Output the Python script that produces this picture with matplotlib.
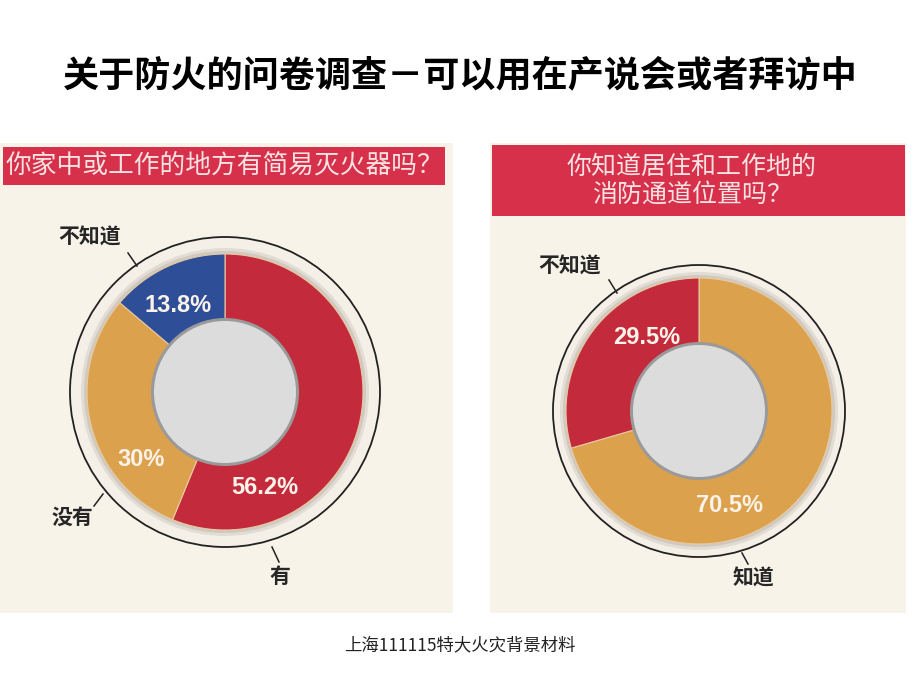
import matplotlib
matplotlib.use("Agg")
import matplotlib.pyplot as plt
from matplotlib.patches import Rectangle, Circle

plt.rcParams['font.family'] = ['Noto Sans CJK SC', 'DejaVu Sans']

# data
title = "关于防火的问卷调查－可以用在产说会或者拜访中"
footer = "上海111115特大火灾背景材料"

q1_title = "你家中或工作的地方有简易灭火器吗？"
q1_labels = ["有", "没有", "不知道"]
q1_values = [56.2, 30, 13.8]
q1_pct = ["56.2%", "30%", "13.8%"]

q2_title = "你知道居住和工作地的\n消防通道位置吗？"
q2_labels = ["知道", "不知道"]
q2_values = [70.5, 29.5]
q2_pct = ["70.5%", "29.5%"]

RED = "#c32b3d"
ORANGE = "#dba14d"
BLUE = "#2e4f97"
HEADER = "#d7304a"
BEIGE = "#f8f3e9"
H = 690


def Y(y):
    # pixel row -> data y
    return H - y


def donut(ax, cx, cy, r_out, r_in, r_circ, values, colors):
    c = (cx, Y(cy))
    ax.add_patch(Circle(c, r_circ, facecolor="#f4f0e8", edgecolor="#222222", lw=1.3, zorder=1))
    ax.add_patch(Circle(c, r_out + 6, facecolor="#e2ddd4", edgecolor="none", zorder=1.5))
    ax.add_patch(Circle(c, r_out + 3, facecolor="#cfc9bf", edgecolor="none", zorder=1.6))
    wedges, _ = ax.pie(values, colors=colors, startangle=90, counterclock=False,
                       radius=r_out, center=c,
                       wedgeprops=dict(width=r_out - r_in, edgecolor="#e9c9a0", linewidth=0.8),
                       frame=True)
    for w in wedges:
        w.set_zorder(2)
    ax.add_patch(Circle(c, r_in + 3, facecolor="#9a9a9a", edgecolor="none", zorder=3))
    ax.add_patch(Circle(c, r_in, facecolor="#dcdcdc", edgecolor="none", zorder=3.1))


def leader(ax, x0, y0, x1, y1):
    ax.plot([x0, x1], [Y(y0), Y(y1)], color="#222222", lw=1.1, zorder=4)


def main():
    fig = plt.figure(figsize=(9.2, 6.9), dpi=100)
    ax = fig.add_axes([0, 0, 1, 1])

    # panels
    ax.add_patch(Rectangle((0, Y(613)), 453, 613 - 143, facecolor=BEIGE, edgecolor="none", zorder=0))
    ax.add_patch(Rectangle((490, Y(613)), 416, 613 - 143, facecolor=BEIGE, edgecolor="none", zorder=0))
    ax.add_patch(Rectangle((3, Y(185)), 442, 38, facecolor=HEADER, edgecolor="none", zorder=1))
    ax.add_patch(Rectangle((492, Y(216)), 413, 71, facecolor=HEADER, edgecolor="none", zorder=1))

    ax.text(224, Y(166), q1_title, ha="center", va="center", fontsize=18.5,
            color="#f7e3e3", zorder=2)
    ax.text(692, Y(181), q2_title, ha="center", va="center", fontsize=18,
            color="#f7e3e3", linespacing=1.1, zorder=2)

    # donuts
    donut(ax, 225, 392, 138, 71, 155, q1_values, [RED, ORANGE, BLUE])
    donut(ax, 699, 411, 133, 66, 146, q2_values, [ORANGE, RED])

    pct_kw = dict(ha="center", va="center", fontsize=17, fontweight="bold",
                  color="#fbf3ea", family=["Liberation Sans", "DejaVu Sans"], zorder=5)
    ax.text(265, Y(487), q1_pct[0], **pct_kw)
    ax.text(141, Y(460), q1_pct[1], **pct_kw)
    ax.text(178, Y(305), q1_pct[2], **pct_kw)
    ax.text(730, Y(505), q2_pct[0], **pct_kw)
    ax.text(647, Y(338), q2_pct[1], **pct_kw)

    lab_kw = dict(ha="center", va="center", fontsize=15, fontweight="bold",
                  color="#262626", zorder=5)
    ax.text(280, Y(576), q1_labels[0], **lab_kw)
    leader(ax, 272, 547, 279, 562)
    ax.text(72, Y(517), q1_labels[1], **lab_kw)
    leader(ax, 94, 506, 103, 494)
    ax.text(90, Y(237), q1_labels[2], **lab_kw)
    leader(ax, 128, 253, 137, 266)

    ax.text(753, Y(578), q2_labels[0], **lab_kw)
    leader(ax, 742, 553, 748, 564)
    ax.text(570, Y(266), q2_labels[1], **lab_kw)
    leader(ax, 609, 280, 617, 293)

    # title and footer
    ax.text(460, Y(76), title, ha="center", va="center", fontsize=26,
            fontweight="bold", color="black")
    ax.text(460, Y(645), footer, ha="center", va="center", fontsize=12.5,
            color="#222222")

    ax.set_xlim(0, 920)
    ax.set_ylim(0, H)
    ax.set_aspect("auto")
    ax.axis("off")
    fig.savefig("out.png", dpi=100, facecolor="white")


if __name__ == "__main__":
    main()
